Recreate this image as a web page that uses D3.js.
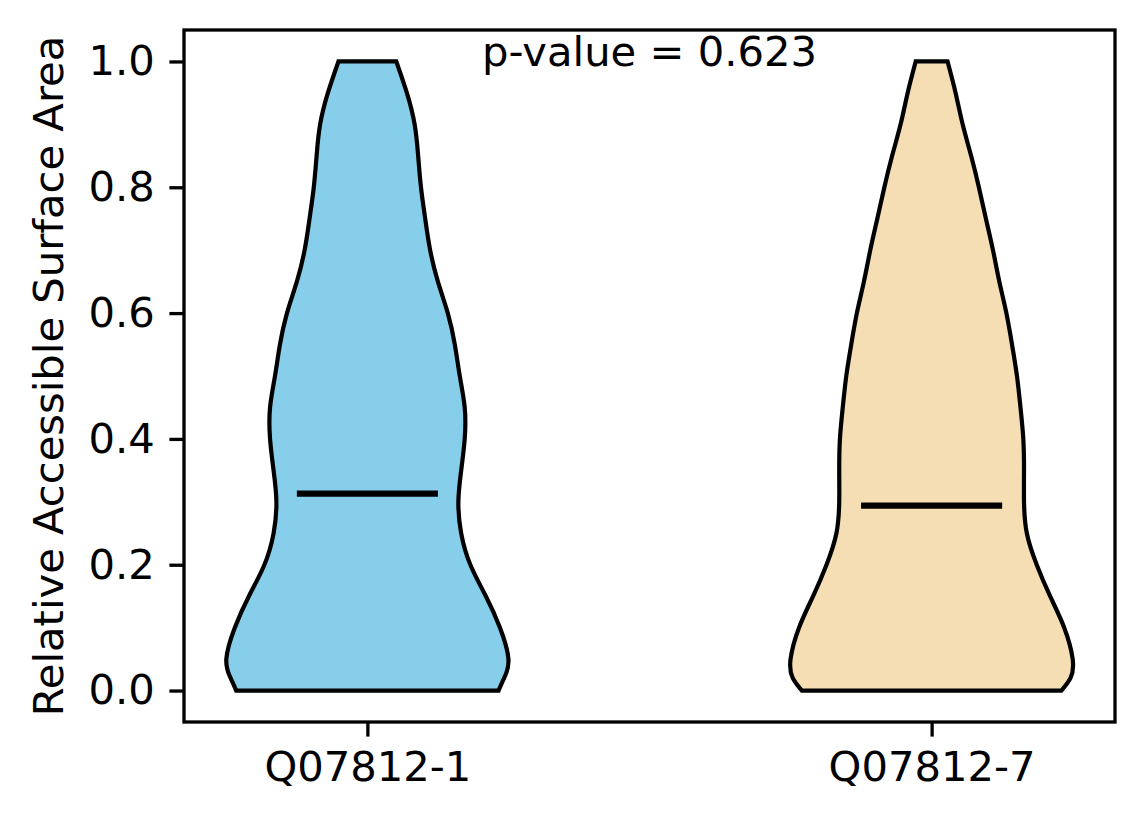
<!DOCTYPE html>
<html>
<head>
<meta charset="utf-8">
<script src="https://cdn.jsdelivr.net/npm/d3@7"></script>
<style>
    html, body { margin: 0; padding: 0; background: #fff; }
    svg { display: block; font-family: 'DejaVu Sans', sans-serif; }
    .axis path, .axis line { stroke: #000; stroke-width: 3.3; }
    .axis text { font-size: 41.7px; fill: #000; font-family: 'DejaVu Sans', sans-serif; }
</style>
</head>
<body>
<div id="chart"></div>
<script>
const categories = ['Q07812-1', 'Q07812-7'];
const positions = [1, 2];
const colors = ['#87ceeb', '#f5deb3'];
const medians = [0.313, 0.294];
const pValue = '0.623';

// relative accessible surface area levels and density (relative to peak) at each level
const levels = [0, 0.02, 0.05, 0.1, 0.15, 0.2, 0.25, 0.3, 0.35, 0.4, 0.45, 0.5, 0.55, 0.6, 0.65, 0.7, 0.75, 0.8, 0.85, 0.9, 0.95, 1.0];
const densityIso1 = [0.93, 0.97, 1.0, 0.94, 0.84, 0.73, 0.665, 0.645, 0.665, 0.69, 0.69, 0.655, 0.62, 0.57, 0.50, 0.445, 0.41, 0.38, 0.36, 0.335, 0.28, 0.205];
const densityIso7 = [0.92, 0.985, 1.0, 0.94, 0.84, 0.745, 0.675, 0.655, 0.655, 0.65, 0.63, 0.605, 0.57, 0.53, 0.48, 0.435, 0.385, 0.335, 0.28, 0.22, 0.17, 0.113];
const densities = [densityIso1, densityIso7];

const yTicks = [0, 0.2, 0.4, 0.6, 0.8, 1.0];

const width = 1144, height = 824;
const margin = {top: 30, right: 29, bottom: 102, left: 184};
const violinHalf = 0.25;

const svg = d3.select('#chart').append('svg')
    .attr('width', width)
    .attr('height', height);

const x = d3.scaleLinear()
    .domain([0.675, 2.325])
    .range([margin.left, width - margin.right]);

const y = d3.scaleLinear()
    .domain([-0.05, 1.05])
    .range([height - margin.bottom, margin.top]);

const area = d3.area()
    .y(d => y(d.v))
    .x0(d => x(d.pos - d.w))
    .x1(d => x(d.pos + d.w))
    .curve(d3.curveNatural);

categories.forEach((name, i) => {
    let pos = positions[i];
    let peak = d3.max(densities[i]);
    let pts = levels.map((v, j) => ({v: v, pos: pos, w: densities[i][j] / peak * violinHalf}));

    svg.append('path')
        .datum(pts)
        .attr('d', area)
        .attr('fill', colors[i])
        .attr('stroke', '#000')
        .attr('stroke-width', 4.2)
        .attr('stroke-linejoin', 'miter');

    svg.append('line')
        .attr('x1', x(pos - violinHalf / 2))
        .attr('x2', x(pos + violinHalf / 2))
        .attr('y1', y(medians[i]))
        .attr('y2', y(medians[i]))
        .attr('stroke', '#000')
        .attr('stroke-width', 6.25);
});

svg.append('g')
    .attr('class', 'axis')
    .attr('transform', `translate(${margin.left},0)`)
    .call(d3.axisLeft(y).tickValues(yTicks).tickFormat(d3.format('.1f')).tickSize(14.6).tickPadding(14.6))
    .call(g => g.select('.domain').remove());

svg.append('g')
    .attr('class', 'axis')
    .attr('transform', `translate(0,${height - margin.bottom})`)
    .call(d3.axisBottom(x).tickValues(positions).tickFormat((d, i) => categories[i]).tickSize(14.6).tickPadding(14.6))
    .call(g => g.select('.domain').remove());

svg.append('rect')
    .attr('x', margin.left)
    .attr('y', margin.top)
    .attr('width', width - margin.left - margin.right)
    .attr('height', height - margin.top - margin.bottom)
    .attr('fill', 'none')
    .attr('stroke', '#000')
    .attr('stroke-width', 3.3);

svg.append('text')
    .attr('x', (margin.left + width - margin.right) / 2)
    .attr('y', y(1.0) + 5)
    .attr('text-anchor', 'middle')
    .attr('font-size', '41.7px')
    .text('p-value = ' + pValue);

svg.append('text')
    .attr('transform', `translate(63,${(margin.top + height - margin.bottom) / 2}) rotate(-90)`)
    .attr('text-anchor', 'middle')
    .attr('font-size', '41.7px')
    .text('Relative Accessible Surface Area');
</script>
</body>
</html>
